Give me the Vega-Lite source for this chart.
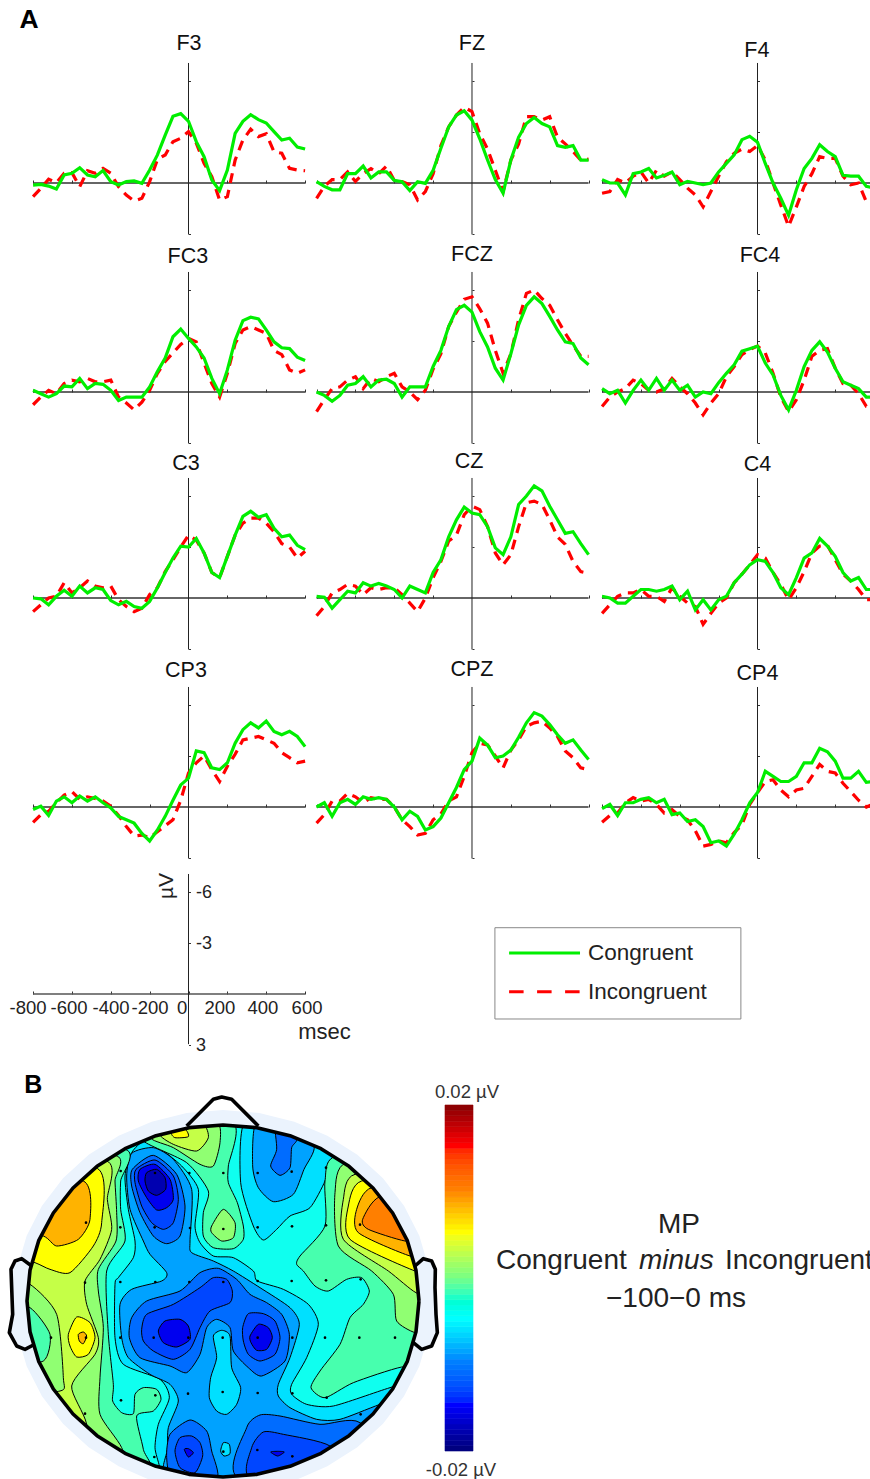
{"$schema":"https://vega.github.io/schema/vega-lite/v6.json","padding":0,"spacing":0,"config":{"font":"Liberation Sans","view":{"stroke":null},"concat":{"spacing":0}},
"datasets":{
"hax":[{"a":-800,"b":600,"z":0}],
"vax":[{"t":0,"a":-7.06,"b":3.03}],
"F3":[{"t":-800,"con":0.12,"inc":0.8},{"t":-760,"con":0.08,"inc":0.31},{"t":-720,"con":0.18,"inc":-0.22},{"t":-680,"con":0.35,"inc":-0.02},{"t":-640,"con":-0.47,"inc":-0.57},{"t":-600,"con":-0.57,"inc":-0.61},{"t":-560,"con":-0.9,"inc":0.22},{"t":-520,"con":-0.47,"inc":-0.72},{"t":-480,"con":-0.37,"inc":-0.57},{"t":-440,"con":-0.73,"inc":-0.86},{"t":-400,"con":-0.08,"inc":-0.57},{"t":-360,"con":0.12,"inc":0.22},{"t":-320,"con":-0.08,"inc":0.71},{"t":-280,"con":-0.12,"inc":1.06},{"t":-240,"con":0.02,"inc":0.9},{"t":-200,"con":-0.76,"inc":-0.08},{"t":-160,"con":-1.65,"inc":-1.39},{"t":-120,"con":-2.82,"inc":-1.65},{"t":-80,"con":-3.92,"inc":-2.43},{"t":-40,"con":-4.08,"inc":-2.63},{"t":0,"con":-3.63,"inc":-3.02},{"t":40,"con":-2.43,"inc":-2.35},{"t":80,"con":-1.55,"inc":-1.16},{"t":120,"con":-0.18,"inc":-0.37},{"t":160,"con":0.45,"inc":1},{"t":200,"con":-0.76,"inc":0.8},{"t":240,"con":-2.92,"inc":-1.35},{"t":280,"con":-3.63,"inc":-2.53},{"t":320,"con":-4.02,"inc":-3.16},{"t":360,"con":-3.73,"inc":-2.73},{"t":400,"con":-3.53,"inc":-2.9},{"t":440,"con":-3.02,"inc":-1.84},{"t":480,"con":-2.53,"inc":-1.75},{"t":520,"con":-2.63,"inc":-0.86},{"t":560,"con":-2.12,"inc":-0.76},{"t":600,"con":-2,"inc":-0.72}],
"FZ":[{"t":-800,"con":-0.08,"inc":0.9},{"t":-760,"con":0.2,"inc":0.2},{"t":-720,"con":0.4,"inc":-0.2},{"t":-680,"con":0.4,"inc":-0.2},{"t":-640,"con":-0.55,"inc":-0.65},{"t":-600,"con":-0.55,"inc":-0.1},{"t":-560,"con":-1,"inc":-0.55},{"t":-520,"con":-0.3,"inc":-0.85},{"t":-480,"con":-0.65,"inc":-0.55},{"t":-440,"con":-0.65,"inc":-1},{"t":-400,"con":-0.15,"inc":-0.15},{"t":-360,"con":-0.08,"inc":-0.08},{"t":-320,"con":0.45,"inc":0.1},{"t":-280,"con":-0.08,"inc":1},{"t":-240,"con":0.02,"inc":0.5},{"t":-200,"con":-0.75,"inc":-0.55},{"t":-160,"con":-2.04,"inc":-2.2},{"t":-120,"con":-3.3,"inc":-3.3},{"t":-80,"con":-4,"inc":-4},{"t":-40,"con":-4.25,"inc":-4.45},{"t":0,"con":-3.7,"inc":-4.2},{"t":40,"con":-2.6,"inc":-2.9},{"t":80,"con":-1.35,"inc":-2},{"t":120,"con":-0.2,"inc":-0.75},{"t":160,"con":0.6,"inc":0.5},{"t":200,"con":-1.35,"inc":-1.35},{"t":240,"con":-2.7,"inc":-2.3},{"t":280,"con":-3.5,"inc":-3.9},{"t":320,"con":-3.85,"inc":-3.9},{"t":360,"con":-3.5,"inc":-3.7},{"t":400,"con":-3.3,"inc":-3.9},{"t":440,"con":-2.2,"inc":-2.7},{"t":480,"con":-2.1,"inc":-2.3},{"t":520,"con":-2.2,"inc":-1.85},{"t":560,"con":-1.35,"inc":-1.35},{"t":600,"con":-1.35,"inc":-1.4}],
"F4":[{"t":-800,"con":-0.2,"inc":0.6},{"t":-760,"con":0,"inc":0.5},{"t":-720,"con":0,"inc":-0.2},{"t":-680,"con":0.7,"inc":0},{"t":-640,"con":-0.55,"inc":-0.4},{"t":-600,"con":-0.65,"inc":-0.65},{"t":-560,"con":-0.85,"inc":0},{"t":-520,"con":-0.3,"inc":-0.75},{"t":-480,"con":-0.45,"inc":-0.4},{"t":-440,"con":-0.65,"inc":-0.65},{"t":-400,"con":0.1,"inc":-0.2},{"t":-360,"con":-0.1,"inc":0.3},{"t":-320,"con":0,"inc":0.7},{"t":-280,"con":0.1,"inc":1.4},{"t":-240,"con":0,"inc":0.5},{"t":-200,"con":-0.65,"inc":-0.4},{"t":-160,"con":-1.15,"inc":-1.25},{"t":-120,"con":-1.65,"inc":-1.75},{"t":-80,"con":-2.55,"inc":-2},{"t":-40,"con":-2.75,"inc":-1.85},{"t":0,"con":-2.4,"inc":-2.2},{"t":40,"con":-1.15,"inc":-1.35},{"t":80,"con":0,"inc":0},{"t":120,"con":0.9,"inc":1.3},{"t":160,"con":1.9,"inc":2.55},{"t":200,"con":0.4,"inc":1.4},{"t":240,"con":-0.85,"inc":0.2},{"t":280,"con":-1.45,"inc":-0.55},{"t":320,"con":-2.25,"inc":-1.55},{"t":360,"con":-1.85,"inc":-1.45},{"t":400,"con":-1.55,"inc":-1.45},{"t":440,"con":-0.45,"inc":-0.4},{"t":480,"con":-0.4,"inc":0.1},{"t":520,"con":-0.4,"inc":0},{"t":560,"con":0.2,"inc":1.1},{"t":600,"con":0.3,"inc":1.2}],
"FC3":[{"t":-800,"con":-0.1,"inc":0.75},{"t":-760,"con":0.1,"inc":0.3},{"t":-720,"con":0.3,"inc":-0.1},{"t":-680,"con":0.1,"inc":0.1},{"t":-640,"con":-0.35,"inc":-0.5},{"t":-600,"con":-0.3,"inc":-0.7},{"t":-560,"con":-0.8,"inc":-0.6},{"t":-520,"con":-0.2,"inc":-0.8},{"t":-480,"con":-0.5,"inc":-0.6},{"t":-440,"con":-0.45,"inc":-0.6},{"t":-400,"con":-0.1,"inc":-0.7},{"t":-360,"con":0.5,"inc":0.3},{"t":-320,"con":0.3,"inc":0.65},{"t":-280,"con":0.3,"inc":1.05},{"t":-240,"con":0.3,"inc":0.6},{"t":-200,"con":-0.3,"inc":-0.1},{"t":-160,"con":-1.2,"inc":-1.1},{"t":-120,"con":-2,"inc":-1.8},{"t":-80,"con":-3.25,"inc":-2.3},{"t":-40,"con":-3.7,"inc":-2.8},{"t":0,"con":-3.15,"inc":-3.15},{"t":40,"con":-2.65,"inc":-2.95},{"t":80,"con":-2,"inc":-1.7},{"t":120,"con":-0.8,"inc":-0.5},{"t":160,"con":0.1,"inc":0.3},{"t":200,"con":-1.3,"inc":-1.1},{"t":240,"con":-3.05,"inc":-2.85},{"t":280,"con":-4.2,"inc":-3.65},{"t":320,"con":-4.4,"inc":-3.85},{"t":360,"con":-4.3,"inc":-3.65},{"t":400,"con":-3.65,"inc":-3.45},{"t":440,"con":-2.95,"inc":-2.45},{"t":480,"con":-2.6,"inc":-2.2},{"t":520,"con":-2.55,"inc":-1.3},{"t":560,"con":-2.05,"inc":-1.1},{"t":600,"con":-1.85,"inc":-1.3}],
"FCZ":[{"t":-800,"con":0,"inc":1.15},{"t":-760,"con":0.2,"inc":0.45},{"t":-720,"con":0.55,"inc":-0.2},{"t":-680,"con":0.2,"inc":-0.3},{"t":-640,"con":-0.4,"inc":-0.7},{"t":-600,"con":-0.5,"inc":-0.9},{"t":-560,"con":-0.9,"inc":-0.2},{"t":-520,"con":-0.3,"inc":-0.8},{"t":-480,"con":-0.7,"inc":-0.6},{"t":-440,"con":-0.75,"inc":-0.9},{"t":-400,"con":-0.5,"inc":-1.1},{"t":-360,"con":0.3,"inc":-0.3},{"t":-320,"con":-0.3,"inc":0},{"t":-280,"con":-0.3,"inc":0.45},{"t":-240,"con":-0.3,"inc":-0.1},{"t":-200,"con":-1.5,"inc":-1.35},{"t":-160,"con":-2.45,"inc":-2.25},{"t":-120,"con":-3.85,"inc":-3.85},{"t":-80,"con":-4.85,"inc":-4.7},{"t":-40,"con":-5.1,"inc":-5.45},{"t":0,"con":-4.7,"inc":-5.6},{"t":40,"con":-3.55,"inc":-4.9},{"t":80,"con":-2.65,"inc":-4.05},{"t":120,"con":-1.4,"inc":-2.45},{"t":160,"con":-0.7,"inc":-1.1},{"t":200,"con":-2.25,"inc":-2.25},{"t":240,"con":-3.95,"inc":-4.25},{"t":280,"con":-5.1,"inc":-5.8},{"t":320,"con":-5.6,"inc":-6},{"t":360,"con":-5.2,"inc":-5.5},{"t":400,"con":-4.45,"inc":-5.1},{"t":440,"con":-3.65,"inc":-4.25},{"t":480,"con":-2.95,"inc":-3.45},{"t":520,"con":-2.85,"inc":-2.75},{"t":560,"con":-2,"inc":-2.1},{"t":600,"con":-1.6,"inc":-2.1}],
"FC4":[{"t":-800,"con":-0.2,"inc":0.85},{"t":-760,"con":0.1,"inc":0.3},{"t":-720,"con":-0.1,"inc":0},{"t":-680,"con":0.65,"inc":-0.2},{"t":-640,"con":-0.1,"inc":-0.7},{"t":-600,"con":-0.7,"inc":-0.5},{"t":-560,"con":-0.1,"inc":-0.1},{"t":-520,"con":-0.8,"inc":0},{"t":-480,"con":-0.1,"inc":-0.2},{"t":-440,"con":-0.7,"inc":-0.8},{"t":-400,"con":-0.1,"inc":-0.3},{"t":-360,"con":-0.4,"inc":0.1},{"t":-320,"con":0.3,"inc":0.65},{"t":-280,"con":0,"inc":1.35},{"t":-240,"con":0.1,"inc":0.65},{"t":-200,"con":-0.55,"inc":0.1},{"t":-160,"con":-1.1,"inc":-0.9},{"t":-120,"con":-1.6,"inc":-1.5},{"t":-80,"con":-2.4,"inc":-2.2},{"t":-40,"con":-2.55,"inc":-2.5},{"t":0,"con":-2.7,"inc":-2.7},{"t":40,"con":-1.7,"inc":-2.3},{"t":80,"con":-1,"inc":-1.1},{"t":120,"con":0.2,"inc":0.3},{"t":160,"con":1.05,"inc":1.15},{"t":200,"con":-0.1,"inc":0.45},{"t":240,"con":-1.5,"inc":-0.7},{"t":280,"con":-2.45,"inc":-2.1},{"t":320,"con":-2.95,"inc":-2.45},{"t":360,"con":-2.35,"inc":-2.55},{"t":400,"con":-1.4,"inc":-1.4},{"t":440,"con":-0.6,"inc":-0.5},{"t":480,"con":-0.4,"inc":-0.4},{"t":520,"con":-0.2,"inc":0.1},{"t":560,"con":0.3,"inc":0.85},{"t":600,"con":0.3,"inc":0.95}],
"C3":[{"t":-800,"con":0,"inc":0.8},{"t":-760,"con":0.05,"inc":0.4},{"t":-720,"con":0.4,"inc":0},{"t":-680,"con":-0.1,"inc":-0.1},{"t":-640,"con":-0.45,"inc":-0.9},{"t":-600,"con":-0.1,"inc":-0.3},{"t":-560,"con":-0.7,"inc":-0.6},{"t":-520,"con":-0.3,"inc":-1},{"t":-480,"con":-0.6,"inc":-0.7},{"t":-440,"con":-0.5,"inc":-0.6},{"t":-400,"con":0.15,"inc":-0.7},{"t":-360,"con":0.4,"inc":0.1},{"t":-320,"con":0.2,"inc":0.5},{"t":-280,"con":0.5,"inc":0.8},{"t":-240,"con":0.6,"inc":0.6},{"t":-200,"con":0.2,"inc":-0.2},{"t":-160,"con":-0.6,"inc":-0.6},{"t":-120,"con":-1.5,"inc":-1.55},{"t":-80,"con":-2.35,"inc":-2.25},{"t":-40,"con":-3.05,"inc":-3},{"t":0,"con":-3,"inc":-3.7},{"t":40,"con":-3.5,"inc":-3.4},{"t":80,"con":-2.65,"inc":-2.65},{"t":120,"con":-1.5,"inc":-1.5},{"t":160,"con":-1.2,"inc":-1.2},{"t":200,"con":-2.45,"inc":-2.45},{"t":240,"con":-3.7,"inc":-3.7},{"t":280,"con":-4.8,"inc":-4.4},{"t":320,"con":-5.1,"inc":-4.7},{"t":360,"con":-4.75,"inc":-4.7},{"t":400,"con":-4.9,"inc":-4.4},{"t":440,"con":-4.1,"inc":-3.9},{"t":480,"con":-3.6,"inc":-3.2},{"t":520,"con":-3.7,"inc":-3},{"t":560,"con":-3.1,"inc":-2.35},{"t":600,"con":-2.85,"inc":-2.75}],
"CZ":[{"t":-800,"con":-0.1,"inc":1.05},{"t":-760,"con":-0.05,"inc":0.5},{"t":-720,"con":0.6,"inc":-0.3},{"t":-680,"con":0.1,"inc":-0.5},{"t":-640,"con":-0.4,"inc":-0.8},{"t":-600,"con":-0.3,"inc":-0.7},{"t":-560,"con":-0.9,"inc":-0.2},{"t":-520,"con":-0.7,"inc":-0.6},{"t":-480,"con":-0.85,"inc":-0.5},{"t":-440,"con":-0.7,"inc":-0.6},{"t":-400,"con":-0.5,"inc":-0.6},{"t":-360,"con":0,"inc":-0.2},{"t":-320,"con":-0.7,"inc":0.3},{"t":-280,"con":-0.5,"inc":0.8},{"t":-240,"con":-0.3,"inc":0},{"t":-200,"con":-1.5,"inc":-1.2},{"t":-160,"con":-2.25,"inc":-2.15},{"t":-120,"con":-3.6,"inc":-3.35},{"t":-80,"con":-4.6,"inc":-3.7},{"t":-40,"con":-5.35,"inc":-4.9},{"t":0,"con":-5,"inc":-5.4},{"t":40,"con":-4.9,"inc":-5.2},{"t":80,"con":-4.2,"inc":-4.2},{"t":120,"con":-2.95,"inc":-2.65},{"t":160,"con":-2.55,"inc":-1.95},{"t":200,"con":-3.6,"inc":-2.55},{"t":240,"con":-5.5,"inc":-4.2},{"t":280,"con":-6,"inc":-5.6},{"t":320,"con":-6.6,"inc":-5.7},{"t":360,"con":-6.3,"inc":-5.5},{"t":400,"con":-5.4,"inc":-4.6},{"t":440,"con":-4.6,"inc":-3.6},{"t":480,"con":-3.8,"inc":-3.15},{"t":520,"con":-3.9,"inc":-2.15},{"t":560,"con":-3.2,"inc":-1.55},{"t":600,"con":-2.55,"inc":-1.45}],
"C4":[{"t":-800,"con":-0.1,"inc":0.9},{"t":-760,"con":0,"inc":0.4},{"t":-720,"con":0.3,"inc":-0.1},{"t":-680,"con":0.3,"inc":-0.3},{"t":-640,"con":-0.1,"inc":-0.3},{"t":-600,"con":-0.5,"inc":-0.5},{"t":-560,"con":-0.5,"inc":-0.1},{"t":-520,"con":-0.4,"inc":-0.1},{"t":-480,"con":-0.5,"inc":0.2},{"t":-440,"con":-0.7,"inc":-0.6},{"t":-400,"con":0.1,"inc":-0.1},{"t":-360,"con":-0.4,"inc":0.3},{"t":-320,"con":0.7,"inc":0.5},{"t":-280,"con":0.1,"inc":1.55},{"t":-240,"con":0.7,"inc":0.9},{"t":-200,"con":0.1,"inc":0.3},{"t":-160,"con":-0.1,"inc":0},{"t":-120,"con":-0.9,"inc":-0.9},{"t":-80,"con":-1.4,"inc":-1.4},{"t":-40,"con":-1.95,"inc":-1.95},{"t":0,"con":-2.25,"inc":-2.55},{"t":40,"con":-2.15,"inc":-2.35},{"t":80,"con":-1.5,"inc":-1.5},{"t":120,"con":-0.6,"inc":-0.8},{"t":160,"con":-0.2,"inc":0.1},{"t":200,"con":-1.2,"inc":-0.6},{"t":240,"con":-2.35,"inc":-1.55},{"t":280,"con":-2.65,"inc":-2.65},{"t":320,"con":-3.5,"inc":-3.05},{"t":360,"con":-3.05,"inc":-3.1},{"t":400,"con":-2.45,"inc":-2.25},{"t":440,"con":-1.5,"inc":-1.4},{"t":480,"con":-1,"inc":-1},{"t":520,"con":-1.2,"inc":-0.5},{"t":560,"con":-0.5,"inc":0.1},{"t":600,"con":-0.5,"inc":0.1}],
"CP3":[{"t":-800,"con":0.15,"inc":0.9},{"t":-760,"con":-0.05,"inc":0.45},{"t":-720,"con":0.5,"inc":0.25},{"t":-680,"con":-0.35,"inc":-0.25},{"t":-640,"con":-0.6,"inc":-0.7},{"t":-600,"con":-0.25,"inc":-0.9},{"t":-560,"con":-0.65,"inc":-0.45},{"t":-520,"con":-0.35,"inc":-0.6},{"t":-480,"con":-0.6,"inc":-0.5},{"t":-440,"con":-0.25,"inc":-0.35},{"t":-400,"con":0.05,"inc":-0.05},{"t":-360,"con":0.55,"inc":0.5},{"t":-320,"con":0.75,"inc":1.15},{"t":-280,"con":0.95,"inc":1.7},{"t":-240,"con":1.55,"inc":1.65},{"t":-200,"con":2,"inc":1.8},{"t":-160,"con":1.35,"inc":1.45},{"t":-120,"con":0.55,"inc":1.1},{"t":-80,"con":-0.4,"inc":0.75},{"t":-40,"con":-1.3,"inc":-0.4},{"t":0,"con":-1.7,"inc":-2},{"t":40,"con":-3.3,"inc":-2.6},{"t":80,"con":-3.2,"inc":-3},{"t":120,"con":-2.3,"inc":-2.2},{"t":160,"con":-2.2,"inc":-1.5},{"t":200,"con":-2.6,"inc":-2.4},{"t":240,"con":-3.75,"inc":-3.1},{"t":280,"con":-4.55,"inc":-3.95},{"t":320,"con":-4.95,"inc":-4.05},{"t":360,"con":-4.65,"inc":-4.15},{"t":400,"con":-5.05,"inc":-3.95},{"t":440,"con":-4.45,"inc":-3.75},{"t":480,"con":-4.25,"inc":-3.2},{"t":520,"con":-4.45,"inc":-2.9},{"t":560,"con":-4.15,"inc":-2.6},{"t":600,"con":-3.55,"inc":-2.7}],
"CPZ":[{"t":-800,"con":0,"inc":0.95},{"t":-760,"con":-0.25,"inc":0.45},{"t":-720,"con":0.55,"inc":-0.35},{"t":-680,"con":-0.25,"inc":-0.35},{"t":-640,"con":-0.45,"inc":-0.8},{"t":-600,"con":-0.15,"inc":-0.6},{"t":-560,"con":-0.6,"inc":-0.25},{"t":-520,"con":-0.45,"inc":-0.55},{"t":-480,"con":-0.55,"inc":-0.45},{"t":-440,"con":-0.45,"inc":-0.45},{"t":-400,"con":0,"inc":0},{"t":-360,"con":0.75,"inc":0.75},{"t":-320,"con":0.25,"inc":1.15},{"t":-280,"con":0.55,"inc":1.65},{"t":-240,"con":1.35,"inc":1.55},{"t":-200,"con":1.15,"inc":0.75},{"t":-160,"con":0.65,"inc":0.4},{"t":-120,"con":-0.25,"inc":-0.35},{"t":-80,"con":-1.15,"inc":-0.6},{"t":-40,"con":-2.2,"inc":-1.8},{"t":0,"con":-2.7,"inc":-3.2},{"t":40,"con":-4.05,"inc":-3.75},{"t":80,"con":-3.65,"inc":-3.65},{"t":120,"con":-2.9,"inc":-3},{"t":160,"con":-3,"inc":-2.3},{"t":200,"con":-3.35,"inc":-3.35},{"t":240,"con":-4.1,"inc":-3.95},{"t":280,"con":-4.95,"inc":-4.75},{"t":320,"con":-5.55,"inc":-4.95},{"t":360,"con":-5.35,"inc":-5.05},{"t":400,"con":-4.85,"inc":-4.65},{"t":440,"con":-4.25,"inc":-4.15},{"t":480,"con":-3.75,"inc":-3.3},{"t":520,"con":-3.95,"inc":-2.9},{"t":560,"con":-3.35,"inc":-2.3},{"t":600,"con":-2.8,"inc":-2.2}],
"CP4":[{"t":-800,"con":0.1,"inc":0.9},{"t":-760,"con":-0.15,"inc":0.5},{"t":-720,"con":0.5,"inc":0.35},{"t":-680,"con":-0.25,"inc":-0.25},{"t":-640,"con":-0.25,"inc":-0.55},{"t":-600,"con":-0.45,"inc":-0.35},{"t":-560,"con":-0.55,"inc":-0.45},{"t":-520,"con":-0.25,"inc":-0.15},{"t":-480,"con":-0.45,"inc":0.35},{"t":-440,"con":0.45,"inc":0.15},{"t":-400,"con":0.35,"inc":0.55},{"t":-360,"con":0.85,"inc":0.75},{"t":-320,"con":0.75,"inc":1.4},{"t":-280,"con":1.15,"inc":2.3},{"t":-240,"con":2.1,"inc":2.2},{"t":-200,"con":2,"inc":2},{"t":-160,"con":2.3,"inc":2.1},{"t":-120,"con":1.6,"inc":1.5},{"t":-80,"con":0.75,"inc":1.05},{"t":-40,"con":-0.25,"inc":-0.15},{"t":0,"con":-0.85,"inc":-0.85},{"t":40,"con":-2.1,"inc":-1.5},{"t":80,"con":-1.8,"inc":-1.6},{"t":120,"con":-1.5,"inc":-1},{"t":160,"con":-1.5,"inc":-0.6},{"t":200,"con":-1.8,"inc":-1},{"t":240,"con":-2.6,"inc":-1.1},{"t":280,"con":-2.6,"inc":-1.8},{"t":320,"con":-3.45,"inc":-2.5},{"t":360,"con":-3.25,"inc":-2.1},{"t":400,"con":-2.7,"inc":-2},{"t":440,"con":-1.7,"inc":-1.4},{"t":480,"con":-1.7,"inc":-0.9},{"t":520,"con":-2.1,"inc":-0.4},{"t":560,"con":-1.45,"inc":0},{"t":600,"con":-1.5,"inc":-0.2}],
"bar":[{"lo":-0.02,"hi":-0.019375},{"lo":-0.019375,"hi":-0.01875},{"lo":-0.01875,"hi":-0.018125},{"lo":-0.018125,"hi":-0.0175},{"lo":-0.0175,"hi":-0.016875},{"lo":-0.016875,"hi":-0.01625},{"lo":-0.01625,"hi":-0.015625},{"lo":-0.015625,"hi":-0.015},{"lo":-0.015,"hi":-0.014375},{"lo":-0.014375,"hi":-0.01375},{"lo":-0.01375,"hi":-0.013125},{"lo":-0.013125,"hi":-0.0125},{"lo":-0.0125,"hi":-0.011875},{"lo":-0.011875,"hi":-0.01125},{"lo":-0.01125,"hi":-0.010625},{"lo":-0.010625,"hi":-0.01},{"lo":-0.01,"hi":-0.009375},{"lo":-0.009375,"hi":-0.00875},{"lo":-0.00875,"hi":-0.008125},{"lo":-0.008125,"hi":-0.0075},{"lo":-0.0075,"hi":-0.006875},{"lo":-0.006875,"hi":-0.00625},{"lo":-0.00625,"hi":-0.005625},{"lo":-0.005625,"hi":-0.005},{"lo":-0.005,"hi":-0.004375},{"lo":-0.004375,"hi":-0.00375},{"lo":-0.00375,"hi":-0.003125},{"lo":-0.003125,"hi":-0.0025},{"lo":-0.0025,"hi":-0.001875},{"lo":-0.001875,"hi":-0.00125},{"lo":-0.00125,"hi":-0.000625},{"lo":-0.000625,"hi":0},{"lo":0,"hi":0.000625},{"lo":0.000625,"hi":0.00125},{"lo":0.00125,"hi":0.001875},{"lo":0.001875,"hi":0.0025},{"lo":0.0025,"hi":0.003125},{"lo":0.003125,"hi":0.00375},{"lo":0.00375,"hi":0.004375},{"lo":0.004375,"hi":0.005},{"lo":0.005,"hi":0.005625},{"lo":0.005625,"hi":0.00625},{"lo":0.00625,"hi":0.006875},{"lo":0.006875,"hi":0.0075},{"lo":0.0075,"hi":0.008125},{"lo":0.008125,"hi":0.00875},{"lo":0.00875,"hi":0.009375},{"lo":0.009375,"hi":0.01},{"lo":0.01,"hi":0.010625},{"lo":0.010625,"hi":0.01125},{"lo":0.01125,"hi":0.011875},{"lo":0.011875,"hi":0.0125},{"lo":0.0125,"hi":0.013125},{"lo":0.013125,"hi":0.01375},{"lo":0.01375,"hi":0.014375},{"lo":0.014375,"hi":0.015},{"lo":0.015,"hi":0.015625},{"lo":0.015625,"hi":0.01625},{"lo":0.01625,"hi":0.016875},{"lo":0.016875,"hi":0.0175},{"lo":0.0175,"hi":0.018125},{"lo":0.018125,"hi":0.01875},{"lo":0.01875,"hi":0.019375},{"lo":0.019375,"hi":0.02}],
"base":[{"type":"Feature","properties":{},"geometry":{"type":"Polygon","coordinates":[[[10,130],[1310,130],[1310,1238],[10,1238],[10,130]]]}}],
"contours":[
{"p":1,"v":-0.0064,"x":432,"y":225},{"p":1,"v":-0.0064,"x":470,"y":240},{"p":1,"v":-0.0064,"x":545,"y":300},{"p":1,"v":-0.0064,"x":595,"y":370},{"p":1,"v":-0.0064,"x":585,"y":480},{"p":1,"v":-0.0064,"x":600,"y":530},{"p":1,"v":-0.0064,"x":640,"y":570},{"p":1,"v":-0.0064,"x":700,"y":575},{"p":1,"v":-0.0064,"x":760,"y":615},{"p":1,"v":-0.0064,"x":772,"y":645},{"p":1,"v":-0.0064,"x":850,"y":670},{"p":1,"v":-0.0064,"x":925,"y":715},{"p":1,"v":-0.0064,"x":955,"y":775},{"p":1,"v":-0.0064,"x":920,"y":875},{"p":1,"v":-0.0064,"x":875,"y":955},{"p":1,"v":-0.0064,"x":875,"y":985},{"p":1,"v":-0.0064,"x":920,"y":1015},{"p":1,"v":-0.0064,"x":1000,"y":1020},{"p":1,"v":-0.0064,"x":1170,"y":965},{"p":1,"v":-0.0064,"x":1300,"y":930},{"p":1,"v":-0.0064,"x":1300,"y":1238},{"p":1,"v":-0.0064,"x":480,"y":1238},{"p":1,"v":-0.0064,"x":478,"y":1200},{"p":1,"v":-0.0064,"x":465,"y":1145},{"p":1,"v":-0.0064,"x":475,"y":1075},{"p":1,"v":-0.0064,"x":508,"y":995},{"p":1,"v":-0.0064,"x":480,"y":940},{"p":1,"v":-0.0064,"x":370,"y":895},{"p":1,"v":-0.0064,"x":345,"y":815},{"p":1,"v":-0.0064,"x":345,"y":655},{"p":1,"v":-0.0064,"x":355,"y":635},{"p":1,"v":-0.0064,"x":400,"y":575},{"p":1,"v":-0.0064,"x":405,"y":525},{"p":1,"v":-0.0064,"x":385,"y":430},{"p":1,"v":-0.0064,"x":375,"y":330},{"p":1,"v":-0.0064,"x":395,"y":260},
{"p":2,"v":-0.0064,"x":733,"y":170},{"p":2,"v":-0.0064,"x":722,"y":350},{"p":2,"v":-0.0064,"x":760,"y":480},{"p":2,"v":-0.0064,"x":790,"y":522},{"p":2,"v":-0.0064,"x":830,"y":490},{"p":2,"v":-0.0064,"x":870,"y":450},{"p":2,"v":-0.0064,"x":930,"y":425},{"p":2,"v":-0.0064,"x":975,"y":345},{"p":2,"v":-0.0064,"x":985,"y":290},{"p":2,"v":-0.0064,"x":1005,"y":260},{"p":2,"v":-0.0064,"x":860,"y":170},
{"p":3,"v":-0.0088,"x":395,"y":262},{"p":3,"v":-0.0088,"x":460,"y":245},{"p":3,"v":-0.0088,"x":520,"y":280},{"p":3,"v":-0.0088,"x":575,"y":370},{"p":3,"v":-0.0088,"x":570,"y":525},{"p":3,"v":-0.0088,"x":575,"y":560},{"p":3,"v":-0.0088,"x":640,"y":585},{"p":3,"v":-0.0088,"x":700,"y":615},{"p":3,"v":-0.0088,"x":780,"y":665},{"p":3,"v":-0.0088,"x":870,"y":725},{"p":3,"v":-0.0088,"x":898,"y":775},{"p":3,"v":-0.0088,"x":870,"y":875},{"p":3,"v":-0.0088,"x":835,"y":955},{"p":3,"v":-0.0088,"x":835,"y":990},{"p":3,"v":-0.0088,"x":870,"y":1025},{"p":3,"v":-0.0088,"x":950,"y":1060},{"p":3,"v":-0.0088,"x":1020,"y":1060},{"p":3,"v":-0.0088,"x":1140,"y":1015},{"p":3,"v":-0.0088,"x":1300,"y":960},{"p":3,"v":-0.0088,"x":1300,"y":1238},{"p":3,"v":-0.0088,"x":495,"y":1238},{"p":3,"v":-0.0088,"x":490,"y":1200},{"p":3,"v":-0.0088,"x":502,"y":1150},{"p":3,"v":-0.0088,"x":505,"y":1085},{"p":3,"v":-0.0088,"x":535,"y":1005},{"p":3,"v":-0.0088,"x":510,"y":955},{"p":3,"v":-0.0088,"x":450,"y":925},{"p":3,"v":-0.0088,"x":385,"y":875},{"p":3,"v":-0.0088,"x":365,"y":815},{"p":3,"v":-0.0088,"x":360,"y":715},{"p":3,"v":-0.0088,"x":395,"y":670},{"p":3,"v":-0.0088,"x":485,"y":645},{"p":3,"v":-0.0088,"x":500,"y":620},{"p":3,"v":-0.0088,"x":450,"y":565},{"p":3,"v":-0.0088,"x":430,"y":525},{"p":3,"v":-0.0088,"x":390,"y":430},{"p":3,"v":-0.0088,"x":380,"y":330},
{"p":4,"v":-0.0088,"x":768,"y":170},{"p":4,"v":-0.0088,"x":758,"y":300},{"p":4,"v":-0.0088,"x":775,"y":365},{"p":4,"v":-0.0088,"x":820,"y":407},{"p":4,"v":-0.0088,"x":880,"y":385},{"p":4,"v":-0.0088,"x":912,"y":310},{"p":4,"v":-0.0088,"x":942,"y":240},{"p":4,"v":-0.0088,"x":860,"y":170},
{"p":5,"v":-0.0112,"x":825,"y":170},{"p":5,"v":-0.0112,"x":830,"y":250},{"p":5,"v":-0.0112,"x":812,"y":300},{"p":5,"v":-0.0112,"x":840,"y":328},{"p":5,"v":-0.0112,"x":870,"y":305},{"p":5,"v":-0.0112,"x":875,"y":245},{"p":5,"v":-0.0112,"x":890,"y":220},{"p":5,"v":-0.0112,"x":860,"y":170},
{"p":6,"v":-0.0112,"x":397,"y":310},{"p":6,"v":-0.0112,"x":460,"y":268},{"p":6,"v":-0.0112,"x":530,"y":325},{"p":6,"v":-0.0112,"x":555,"y":420},{"p":6,"v":-0.0112,"x":540,"y":510},{"p":6,"v":-0.0112,"x":500,"y":533},{"p":6,"v":-0.0112,"x":460,"y":510},{"p":6,"v":-0.0112,"x":420,"y":440},{"p":6,"v":-0.0112,"x":395,"y":360},
{"p":7,"v":-0.0132,"x":408,"y":310},{"p":7,"v":-0.0132,"x":465,"y":282},{"p":7,"v":-0.0132,"x":520,"y":330},{"p":7,"v":-0.0132,"x":535,"y":400},{"p":7,"v":-0.0132,"x":520,"y":470},{"p":7,"v":-0.0132,"x":490,"y":490},{"p":7,"v":-0.0132,"x":455,"y":470},{"p":7,"v":-0.0132,"x":425,"y":420},{"p":7,"v":-0.0132,"x":405,"y":350},
{"p":8,"v":-0.0156,"x":420,"y":310},{"p":8,"v":-0.0156,"x":465,"y":295},{"p":8,"v":-0.0156,"x":510,"y":340},{"p":8,"v":-0.0156,"x":520,"y":400},{"p":8,"v":-0.0156,"x":500,"y":425},{"p":8,"v":-0.0156,"x":470,"y":432},{"p":8,"v":-0.0156,"x":440,"y":395},{"p":8,"v":-0.0156,"x":415,"y":345},
{"p":9,"v":-0.018,"x":440,"y":320},{"p":9,"v":-0.018,"x":470,"y":310},{"p":9,"v":-0.018,"x":495,"y":335},{"p":9,"v":-0.018,"x":497,"y":370},{"p":9,"v":-0.018,"x":470,"y":388},{"p":9,"v":-0.018,"x":445,"y":375},{"p":9,"v":-0.018,"x":435,"y":345},
{"p":10,"v":-0.0112,"x":388,"y":815},{"p":10,"v":-0.0112,"x":395,"y":755},{"p":10,"v":-0.0112,"x":440,"y":705},{"p":10,"v":-0.0112,"x":540,"y":675},{"p":10,"v":-0.0112,"x":600,"y":620},{"p":10,"v":-0.0112,"x":655,"y":607},{"p":10,"v":-0.0112,"x":710,"y":640},{"p":10,"v":-0.0112,"x":750,"y":685},{"p":10,"v":-0.0112,"x":800,"y":710},{"p":10,"v":-0.0112,"x":845,"y":745},{"p":10,"v":-0.0112,"x":868,"y":805},{"p":10,"v":-0.0112,"x":855,"y":885},{"p":10,"v":-0.0112,"x":785,"y":930},{"p":10,"v":-0.0112,"x":745,"y":905},{"p":10,"v":-0.0112,"x":700,"y":855},{"p":10,"v":-0.0112,"x":690,"y":785},{"p":10,"v":-0.0112,"x":650,"y":760},{"p":10,"v":-0.0112,"x":620,"y":785},{"p":10,"v":-0.0112,"x":600,"y":865},{"p":10,"v":-0.0112,"x":560,"y":920},{"p":10,"v":-0.0112,"x":510,"y":900},{"p":10,"v":-0.0112,"x":420,"y":875},
{"p":11,"v":-0.0132,"x":425,"y":790},{"p":11,"v":-0.0132,"x":440,"y":745},{"p":11,"v":-0.0132,"x":520,"y":715},{"p":11,"v":-0.0132,"x":600,"y":665},{"p":11,"v":-0.0132,"x":640,"y":635},{"p":11,"v":-0.0132,"x":680,"y":640},{"p":11,"v":-0.0132,"x":697,"y":675},{"p":11,"v":-0.0132,"x":690,"y":710},{"p":11,"v":-0.0132,"x":630,"y":735},{"p":11,"v":-0.0132,"x":600,"y":785},{"p":11,"v":-0.0132,"x":570,"y":850},{"p":11,"v":-0.0132,"x":520,"y":880},{"p":11,"v":-0.0132,"x":460,"y":855},{"p":11,"v":-0.0132,"x":430,"y":825},
{"p":12,"v":-0.0156,"x":475,"y":795},{"p":12,"v":-0.0156,"x":495,"y":765},{"p":12,"v":-0.0156,"x":540,"y":760},{"p":12,"v":-0.0156,"x":565,"y":780},{"p":12,"v":-0.0156,"x":570,"y":820},{"p":12,"v":-0.0156,"x":530,"y":843},{"p":12,"v":-0.0156,"x":490,"y":830},
{"p":13,"v":-0.0132,"x":728,"y":785},{"p":13,"v":-0.0132,"x":745,"y":743},{"p":13,"v":-0.0132,"x":790,"y":743},{"p":13,"v":-0.0132,"x":825,"y":765},{"p":13,"v":-0.0132,"x":840,"y":815},{"p":13,"v":-0.0132,"x":825,"y":865},{"p":13,"v":-0.0132,"x":780,"y":885},{"p":13,"v":-0.0132,"x":745,"y":865},{"p":13,"v":-0.0132,"x":730,"y":825},
{"p":14,"v":-0.0156,"x":750,"y":810},{"p":14,"v":-0.0156,"x":775,"y":775},{"p":14,"v":-0.0156,"x":805,"y":785},{"p":14,"v":-0.0156,"x":817,"y":815},{"p":14,"v":-0.0156,"x":800,"y":850},{"p":14,"v":-0.0156,"x":770,"y":853},{"p":14,"v":-0.0156,"x":753,"y":830},
{"p":15,"v":-0.0064,"x":640,"y":810},{"p":15,"v":-0.0064,"x":665,"y":793},{"p":15,"v":-0.0064,"x":690,"y":810},{"p":15,"v":-0.0064,"x":695,"y":905},{"p":15,"v":-0.0064,"x":722,"y":965},{"p":15,"v":-0.0064,"x":710,"y":1015},{"p":15,"v":-0.0064,"x":680,"y":1045},{"p":15,"v":-0.0064,"x":650,"y":1035},{"p":15,"v":-0.0064,"x":628,"y":995},{"p":15,"v":-0.0064,"x":632,"y":935},{"p":15,"v":-0.0064,"x":650,"y":875},
{"p":16,"v":-0.0112,"x":500,"y":1175},{"p":16,"v":-0.0112,"x":510,"y":1105},{"p":16,"v":-0.0112,"x":570,"y":1062},{"p":16,"v":-0.0112,"x":620,"y":1095},{"p":16,"v":-0.0112,"x":635,"y":1155},{"p":16,"v":-0.0112,"x":650,"y":1238},{"p":16,"v":-0.0112,"x":520,"y":1238},
{"p":17,"v":-0.0132,"x":525,"y":1155},{"p":17,"v":-0.0132,"x":540,"y":1115},{"p":17,"v":-0.0132,"x":575,"y":1110},{"p":17,"v":-0.0132,"x":600,"y":1130},{"p":17,"v":-0.0132,"x":608,"y":1170},{"p":17,"v":-0.0132,"x":585,"y":1220},{"p":17,"v":-0.0132,"x":540,"y":1205},
{"p":18,"v":-0.0156,"x":553,"y":1150},{"p":18,"v":-0.0156,"x":565,"y":1148},{"p":18,"v":-0.0156,"x":580,"y":1160},{"p":18,"v":-0.0156,"x":565,"y":1173},
{"p":19,"v":-0.0112,"x":720,"y":1238},{"p":19,"v":-0.0112,"x":740,"y":1085},{"p":19,"v":-0.0112,"x":780,"y":1047},{"p":19,"v":-0.0112,"x":840,"y":1050},{"p":19,"v":-0.0112,"x":960,"y":1075},{"p":19,"v":-0.0112,"x":1080,"y":1070},{"p":19,"v":-0.0112,"x":1200,"y":1238},
{"p":20,"v":-0.0132,"x":755,"y":1145},{"p":20,"v":-0.0132,"x":790,"y":1098},{"p":20,"v":-0.0132,"x":850,"y":1105},{"p":20,"v":-0.0132,"x":990,"y":1140},{"p":20,"v":-0.0132,"x":1050,"y":1238},{"p":20,"v":-0.0132,"x":755,"y":1238},
{"p":21,"v":-0.0156,"x":812,"y":1158},{"p":21,"v":-0.0156,"x":833,"y":1156},{"p":21,"v":-0.0156,"x":853,"y":1158},{"p":21,"v":-0.0156,"x":833,"y":1170},
{"p":22,"v":-0.0064,"x":662,"y":1155},{"p":22,"v":-0.0064,"x":670,"y":1130},{"p":22,"v":-0.0064,"x":688,"y":1135},{"p":22,"v":-0.0064,"x":690,"y":1163},{"p":22,"v":-0.0064,"x":672,"y":1170},
{"p":23,"v":-0.0016,"x":430,"y":225},{"p":23,"v":-0.0016,"x":560,"y":290},{"p":23,"v":-0.0016,"x":625,"y":375},{"p":23,"v":-0.0016,"x":610,"y":440},{"p":23,"v":-0.0016,"x":610,"y":510},{"p":23,"v":-0.0016,"x":640,"y":545},{"p":23,"v":-0.0016,"x":700,"y":548},{"p":23,"v":-0.0016,"x":730,"y":520},{"p":23,"v":-0.0016,"x":730,"y":480},{"p":23,"v":-0.0016,"x":712,"y":410},{"p":23,"v":-0.0016,"x":685,"y":350},{"p":23,"v":-0.0016,"x":685,"y":300},{"p":23,"v":-0.0016,"x":698,"y":170},{"p":23,"v":-0.0016,"x":430,"y":170},
{"p":24,"v":0.0007,"x":455,"y":218},{"p":24,"v":0.0007,"x":520,"y":190},{"p":24,"v":0.0007,"x":650,"y":170},{"p":24,"v":0.0007,"x":660,"y":230},{"p":24,"v":0.0007,"x":640,"y":300},{"p":24,"v":0.0007,"x":600,"y":295},{"p":24,"v":0.0007,"x":520,"y":245},
{"p":25,"v":0.0028,"x":480,"y":205},{"p":25,"v":0.0028,"x":540,"y":175},{"p":25,"v":0.0028,"x":610,"y":175},{"p":25,"v":0.0028,"x":625,"y":215},{"p":25,"v":0.0028,"x":590,"y":255},{"p":25,"v":0.0028,"x":520,"y":235},
{"p":26,"v":0.005,"x":515,"y":200},{"p":26,"v":0.005,"x":555,"y":190},{"p":26,"v":0.005,"x":565,"y":212},{"p":26,"v":0.005,"x":525,"y":215},
{"p":27,"v":0.0007,"x":635,"y":480},{"p":27,"v":0.0007,"x":670,"y":430},{"p":27,"v":0.0007,"x":705,"y":470},{"p":27,"v":0.0007,"x":700,"y":515},{"p":27,"v":0.0007,"x":665,"y":525},{"p":27,"v":0.0007,"x":635,"y":500},
{"p":28,"v":-0.0016,"x":375,"y":250},{"p":28,"v":-0.0016,"x":362,"y":345},{"p":28,"v":-0.0016,"x":362,"y":430},{"p":28,"v":-0.0016,"x":375,"y":525},{"p":28,"v":-0.0016,"x":320,"y":615},{"p":28,"v":-0.0016,"x":325,"y":805},{"p":28,"v":-0.0016,"x":340,"y":955},{"p":28,"v":-0.0016,"x":338,"y":1005},{"p":28,"v":-0.0016,"x":365,"y":1040},{"p":28,"v":-0.0016,"x":400,"y":1043},{"p":28,"v":-0.0016,"x":405,"y":985},{"p":28,"v":-0.0016,"x":430,"y":965},{"p":28,"v":-0.0016,"x":470,"y":970},{"p":28,"v":-0.0016,"x":483,"y":1000},{"p":28,"v":-0.0016,"x":460,"y":1035},{"p":28,"v":-0.0016,"x":410,"y":1050},{"p":28,"v":-0.0016,"x":430,"y":1150},{"p":28,"v":-0.0016,"x":440,"y":1238},{"p":28,"v":-0.0016,"x":10,"y":1238},{"p":28,"v":-0.0016,"x":10,"y":250},
{"p":29,"v":0.0007,"x":345,"y":268},{"p":29,"v":0.0007,"x":345,"y":345},{"p":29,"v":0.0007,"x":350,"y":440},{"p":29,"v":0.0007,"x":348,"y":525},{"p":29,"v":0.0007,"x":295,"y":610},{"p":29,"v":0.0007,"x":295,"y":675},{"p":29,"v":0.0007,"x":310,"y":785},{"p":29,"v":0.0007,"x":300,"y":935},{"p":29,"v":0.0007,"x":300,"y":1045},{"p":29,"v":0.0007,"x":365,"y":1145},{"p":29,"v":0.0007,"x":380,"y":1238},{"p":29,"v":0.0007,"x":10,"y":1238},{"p":29,"v":0.0007,"x":10,"y":268},
{"p":30,"v":0.0028,"x":320,"y":285},{"p":30,"v":0.0028,"x":322,"y":400},{"p":30,"v":0.0028,"x":335,"y":490},{"p":30,"v":0.0028,"x":300,"y":580},{"p":30,"v":0.0028,"x":255,"y":645},{"p":30,"v":0.0028,"x":260,"y":715},{"p":30,"v":0.0028,"x":295,"y":815},{"p":30,"v":0.0028,"x":285,"y":865},{"p":30,"v":0.0028,"x":215,"y":960},{"p":30,"v":0.0028,"x":260,"y":1075},{"p":30,"v":0.0028,"x":265,"y":1238},{"p":30,"v":0.0028,"x":10,"y":1238},{"p":30,"v":0.0028,"x":10,"y":285},
{"p":31,"v":0.005,"x":293,"y":308},{"p":31,"v":0.005,"x":305,"y":470},{"p":31,"v":0.005,"x":280,"y":540},{"p":31,"v":0.005,"x":210,"y":620},{"p":31,"v":0.005,"x":150,"y":610},{"p":31,"v":0.005,"x":105,"y":590},{"p":31,"v":0.005,"x":10,"y":560},{"p":31,"v":0.005,"x":10,"y":308},
{"p":32,"v":0.008,"x":250,"y":345},{"p":32,"v":0.008,"x":270,"y":460},{"p":32,"v":0.008,"x":235,"y":520},{"p":32,"v":0.008,"x":170,"y":540},{"p":32,"v":0.008,"x":130,"y":510},{"p":32,"v":0.008,"x":10,"y":480},{"p":32,"v":0.008,"x":10,"y":345},
{"p":33,"v":0.0007,"x":10,"y":640},{"p":33,"v":0.0007,"x":90,"y":655},{"p":33,"v":0.0007,"x":170,"y":745},{"p":33,"v":0.0007,"x":190,"y":935},{"p":33,"v":0.0007,"x":180,"y":975},{"p":33,"v":0.0007,"x":10,"y":975},
{"p":34,"v":-0.0016,"x":10,"y":720},{"p":34,"v":-0.0016,"x":90,"y":725},{"p":34,"v":-0.0016,"x":150,"y":805},{"p":34,"v":-0.0016,"x":130,"y":885},{"p":34,"v":-0.0016,"x":10,"y":885},
{"p":35,"v":0.005,"x":205,"y":805},{"p":35,"v":0.005,"x":230,"y":753},{"p":35,"v":0.005,"x":270,"y":770},{"p":35,"v":0.005,"x":285,"y":815},{"p":35,"v":0.005,"x":265,"y":865},{"p":35,"v":0.005,"x":230,"y":873},{"p":35,"v":0.005,"x":210,"y":840},
{"p":36,"v":0.008,"x":235,"y":805},{"p":36,"v":0.008,"x":250,"y":798},{"p":36,"v":0.008,"x":260,"y":810},{"p":36,"v":0.008,"x":250,"y":833},{"p":36,"v":0.008,"x":238,"y":825},
{"p":37,"v":-0.0016,"x":1010,"y":270},{"p":37,"v":-0.0016,"x":975,"y":345},{"p":37,"v":-0.0016,"x":975,"y":480},{"p":37,"v":-0.0016,"x":900,"y":570},{"p":37,"v":-0.0016,"x":890,"y":595},{"p":37,"v":-0.0016,"x":910,"y":615},{"p":37,"v":-0.0016,"x":945,"y":660},{"p":37,"v":-0.0016,"x":985,"y":675},{"p":37,"v":-0.0016,"x":1040,"y":640},{"p":37,"v":-0.0016,"x":1085,"y":635},{"p":37,"v":-0.0016,"x":1108,"y":675},{"p":37,"v":-0.0016,"x":1090,"y":715},{"p":37,"v":-0.0016,"x":1050,"y":755},{"p":37,"v":-0.0016,"x":1020,"y":835},{"p":37,"v":-0.0016,"x":960,"y":915},{"p":37,"v":-0.0016,"x":933,"y":965},{"p":37,"v":-0.0016,"x":975,"y":995},{"p":37,"v":-0.0016,"x":1060,"y":950},{"p":37,"v":-0.0016,"x":1205,"y":903},{"p":37,"v":-0.0016,"x":1300,"y":903},{"p":37,"v":-0.0016,"x":1300,"y":270},
{"p":38,"v":0.0007,"x":1040,"y":290},{"p":38,"v":0.0007,"x":1005,"y":380},{"p":38,"v":0.0007,"x":1015,"y":540},{"p":38,"v":0.0007,"x":1115,"y":615},{"p":38,"v":0.0007,"x":1180,"y":685},{"p":38,"v":0.0007,"x":1190,"y":765},{"p":38,"v":0.0007,"x":1245,"y":800},{"p":38,"v":0.0007,"x":1300,"y":800},{"p":38,"v":0.0007,"x":1300,"y":290},
{"p":39,"v":0.0028,"x":1065,"y":325},{"p":39,"v":0.0028,"x":1030,"y":400},{"p":39,"v":0.0028,"x":1030,"y":520},{"p":39,"v":0.0028,"x":1165,"y":615},{"p":39,"v":0.0028,"x":1248,"y":680},{"p":39,"v":0.0028,"x":1300,"y":680},{"p":39,"v":0.0028,"x":1300,"y":325},
{"p":40,"v":0.005,"x":1085,"y":345},{"p":40,"v":0.005,"x":1045,"y":420},{"p":40,"v":0.005,"x":1050,"y":520},{"p":40,"v":0.005,"x":1245,"y":615},{"p":40,"v":0.005,"x":1300,"y":615},{"p":40,"v":0.005,"x":1300,"y":345},
{"p":41,"v":0.008,"x":1115,"y":365},{"p":41,"v":0.008,"x":1070,"y":430},{"p":41,"v":0.008,"x":1075,"y":500},{"p":41,"v":0.008,"x":1230,"y":570},{"p":41,"v":0.008,"x":1300,"y":570},{"p":41,"v":0.008,"x":1300,"y":365},
{"p":42,"v":0.01,"x":1140,"y":392},{"p":42,"v":0.01,"x":1088,"y":460},{"p":42,"v":0.01,"x":1105,"y":490},{"p":42,"v":0.01,"x":1215,"y":525},{"p":42,"v":0.01,"x":1300,"y":525},{"p":42,"v":0.01,"x":1300,"y":392}
],
"mask":[{"type":"Feature","properties":{},"geometry":{"type":"Polygon","coordinates":[[[0,0],[0,1242],[1320,1242],[1320,0],[0,0]],[[1257,705],[1248,797],[1222,886],[1178,969],[1119,1044],[1047,1109],[963,1162],[870,1201],[771,1225],[669,1233],[567,1225],[468,1201],[375,1162],[291,1109],[219,1044],[160,969],[116,886],[90,797],[81,705],[90,613],[116,524],[160,441],[219,366],[291,301],[375,248],[468,209],[567,185],[669,177],[771,185],[870,209],[963,248],[1047,301],[1119,366],[1178,441],[1222,524],[1248,613],[1257,705]]]}}],
"halo":[{"type":"Feature","properties":{},"geometry":{"type":"Polygon","coordinates":[[[1296,705],[1286,605],[1258,509],[1212,419],[1149,337],[1072,266],[982,209],[883,167],[778,141],[669,132],[560,141],[455,167],[356,209],[266,266],[189,337],[126,419],[80,509],[52,605],[42,705],[52,805],[80,901],[126,991],[189,1073],[266,1144],[356,1201],[450,1242],[888,1242],[982,1201],[1072,1144],[1149,1073],[1212,991],[1258,901],[1286,805],[1296,705]],[[1257,705],[1248,797],[1222,886],[1178,969],[1119,1044],[1047,1109],[963,1162],[870,1201],[771,1225],[669,1233],[567,1225],[468,1201],[375,1162],[291,1109],[219,1044],[160,969],[116,886],[90,797],[81,705],[90,613],[116,524],[160,441],[219,366],[291,301],[375,248],[468,209],[567,185],[669,177],[771,185],[870,209],[963,248],[1047,301],[1119,366],[1178,441],[1222,524],[1248,613],[1257,705]]]}},
{"type":"Feature","properties":{},"geometry":{"type":"Polygon","coordinates":[[[95,600],[65,578],[45,585],[33,610],[35,665],[38,745],[28,800],[50,840],[75,850],[100,837],[88,770],[81,705],[88,640],[95,600]]]}},
{"type":"Feature","properties":{},"geometry":{"type":"Polygon","coordinates":[[[1245,600],[1270,578],[1295,585],[1306,610],[1305,665],[1308,745],[1312,800],[1295,840],[1265,850],[1240,830],[1250,770],[1257,705],[1250,640],[1245,600]]]}}],
"outline":[{"type":"Feature","properties":{},"geometry":{"type":"LineString","coordinates":[[1257,705],[1248,797],[1222,886],[1178,969],[1119,1044],[1047,1109],[963,1162],[870,1201],[771,1225],[669,1233],[567,1225],[468,1201],[375,1162],[291,1109],[219,1044],[160,969],[116,886],[90,797],[81,705],[90,613],[116,524],[160,441],[219,366],[291,301],[375,248],[468,209],[567,185],[669,177],[771,185],[870,209],[963,248],[1047,301],[1119,366],[1178,441],[1222,524],[1248,613],[1257,705]]}},
{"type":"Feature","properties":{},"geometry":{"type":"LineString","coordinates":[[560,180],[640,100],[665,93],[695,100],[775,180]]}},
{"type":"Feature","properties":{},"geometry":{"type":"LineString","coordinates":[[95,600],[65,578],[45,585],[33,610],[35,665],[38,745],[28,800],[50,840],[75,850],[100,837]]}},
{"type":"Feature","properties":{},"geometry":{"type":"LineString","coordinates":[[1245,600],[1270,578],[1295,585],[1306,610],[1305,665],[1308,745],[1312,800],[1295,840],[1265,850],[1240,830]]}}],
"dots":[{"x":465,"y":321},{"x":568,"y":321},{"x":670,"y":321},{"x":773,"y":321},{"x":875,"y":317},{"x":978,"y":305},{"x":362,"y":315},{"x":258,"y":470},{"x":361,"y":484},{"x":464,"y":484},{"x":570,"y":486},{"x":670,"y":489},{"x":773,"y":484},{"x":876,"y":481},{"x":978,"y":478},{"x":1080,"y":476},{"x":255,"y":650},{"x":361,"y":648},{"x":466,"y":648},{"x":568,"y":648},{"x":670,"y":648},{"x":773,"y":645},{"x":875,"y":645},{"x":978,"y":643},{"x":1082,"y":640},{"x":153,"y":815},{"x":258,"y":815},{"x":361,"y":815},{"x":461,"y":815},{"x":565,"y":815},{"x":668,"y":815},{"x":773,"y":815},{"x":877,"y":815},{"x":975,"y":815},{"x":1078,"y":815},{"x":1185,"y":815},{"x":363,"y":1003},{"x":466,"y":988},{"x":564,"y":983},{"x":668,"y":978},{"x":773,"y":981},{"x":877,"y":982},{"x":980,"y":995},{"x":255,"y":1043},{"x":1082,"y":1045},{"x":463,"y":1173},{"x":670,"y":1157},{"x":772,"y":1152},{"x":877,"y":1171}]
},
"vconcat":[
{"hconcat":[
{"width":311,"height":239,"layer":[
{"data":{"name":"hax"},"mark":{"type":"rule","color":"#333","strokeWidth":1.3},"encoding":{"x":{"field":"a","type":"quantitative","scale":{"domain":[-970.2,630.4]},"axis":{"orient":"bottom","offset":-56,"values":[-800,-600,-400,-200,200,400,600],"labels":false,"domain":false,"grid":false,"title":null,"tickSize":-3,"tickColor":"#333"}},"x2":{"field":"b"},"y":{"field":"z","type":"quantitative","scale":{"domain":[3.294,-10.765]},"axis":{"orient":"right","offset":-122.5,"values":[-6,-3,3],"labels":false,"domain":false,"grid":false,"title":null,"tickSize":2,"tickColor":"#333"}}}},
{"data":{"name":"vax"},"mark":{"type":"rule","color":"#222","strokeWidth":1},"encoding":{"x":{"field":"t","type":"quantitative","scale":{"domain":[-970.2,630.4]}},"y":{"field":"a","type":"quantitative","scale":{"domain":[3.294,-10.765]}},"y2":{"field":"b"}}},
{"data":{"name":"F3"},"mark":{"type":"line","color":"#ff0000","strokeWidth":3.2,"strokeDash":[10,7],"clip":true},"encoding":{"x":{"field":"t","type":"quantitative","scale":{"domain":[-970.2,630.4]}},"y":{"field":"inc","type":"quantitative","scale":{"domain":[3.294,-10.765]}}}},
{"data":{"name":"F3"},"mark":{"type":"line","color":"#00ee00","strokeWidth":3.2,"clip":true},"encoding":{"x":{"field":"t","type":"quantitative","scale":{"domain":[-970.2,630.4]}},"y":{"field":"con","type":"quantitative","scale":{"domain":[3.294,-10.765]}}}},
{"data":{"values":[{"label":"F3","t":2.6,"v":-8.29}]},"mark":{"type":"text","fontSize":21.5,"dy":1.5,"color":"#111"},"encoding":{"text":{"field":"label"},"x":{"field":"t","type":"quantitative","scale":{"domain":[-970.2,630.4]}},"y":{"field":"v","type":"quantitative","scale":{"domain":[3.294,-10.765]}}}},
{"data":{"values":[{"label":"A","t":-821,"v":-9.59}]},"mark":{"type":"text","fontSize":26.5,"fontWeight":"bold","color":"#000"},"encoding":{"text":{"field":"label"},"x":{"field":"t","type":"quantitative","scale":{"domain":[-970.2,630.4]}},"y":{"field":"v","type":"quantitative","scale":{"domain":[3.294,-10.765]}}}}
]},
{"width":285,"height":239,"layer":[
{"data":{"name":"hax"},"mark":{"type":"rule","color":"#333","strokeWidth":1.3},"encoding":{"x":{"field":"a","type":"quantitative","scale":{"domain":[-828.6,638.2]},"axis":{"orient":"bottom","offset":-56,"values":[-800,-600,-400,-200,200,400,600],"labels":false,"domain":false,"grid":false,"title":null,"tickSize":-3,"tickColor":"#333"}},"x2":{"field":"b"},"y":{"field":"z","type":"quantitative","scale":{"domain":[3.294,-10.765]},"axis":{"orient":"right","offset":-124,"values":[-6,-3,3],"labels":false,"domain":false,"grid":false,"title":null,"tickSize":2,"tickColor":"#333"}}}},
{"data":{"name":"vax"},"mark":{"type":"rule","color":"#222","strokeWidth":1},"encoding":{"x":{"field":"t","type":"quantitative","scale":{"domain":[-828.6,638.2]}},"y":{"field":"a","type":"quantitative","scale":{"domain":[3.294,-10.765]}},"y2":{"field":"b"}}},
{"data":{"name":"FZ"},"mark":{"type":"line","color":"#ff0000","strokeWidth":3.2,"strokeDash":[10,7],"clip":true},"encoding":{"x":{"field":"t","type":"quantitative","scale":{"domain":[-828.6,638.2]}},"y":{"field":"inc","type":"quantitative","scale":{"domain":[3.294,-10.765]}}}},
{"data":{"name":"FZ"},"mark":{"type":"line","color":"#00ee00","strokeWidth":3.2,"clip":true},"encoding":{"x":{"field":"t","type":"quantitative","scale":{"domain":[-828.6,638.2]}},"y":{"field":"con","type":"quantitative","scale":{"domain":[3.294,-10.765]}}}},
{"data":{"values":[{"label":"FZ","t":0,"v":-8.24}]},"mark":{"type":"text","fontSize":21.5,"dy":1.5,"color":"#111"},"encoding":{"text":{"field":"label"},"x":{"field":"t","type":"quantitative","scale":{"domain":[-828.6,638.2]}},"y":{"field":"v","type":"quantitative","scale":{"domain":[3.294,-10.765]}}}}
]},
{"width":274,"height":239,"layer":[
{"data":{"name":"hax"},"mark":{"type":"rule","color":"#333","strokeWidth":1.3,"clip":true},"encoding":{"x":{"field":"a","type":"quantitative","scale":{"domain":[-831.2,579]},"axis":{"orient":"bottom","offset":-56,"values":[-800,-600,-400,-200,200,400],"labels":false,"domain":false,"grid":false,"title":null,"tickSize":-3,"tickColor":"#333"}},"x2":{"field":"b"},"y":{"field":"z","type":"quantitative","scale":{"domain":[3.294,-10.765]},"axis":{"orient":"right","offset":-112.5,"values":[-6,-3,3],"labels":false,"domain":false,"grid":false,"title":null,"tickSize":2,"tickColor":"#333"}}}},
{"data":{"name":"vax"},"mark":{"type":"rule","color":"#222","strokeWidth":1},"encoding":{"x":{"field":"t","type":"quantitative","scale":{"domain":[-831.2,579]}},"y":{"field":"a","type":"quantitative","scale":{"domain":[3.294,-10.765]}},"y2":{"field":"b"}}},
{"data":{"name":"F4"},"mark":{"type":"line","color":"#ff0000","strokeWidth":3.2,"strokeDash":[10,7],"clip":true},"encoding":{"x":{"field":"t","type":"quantitative","scale":{"domain":[-831.2,579]}},"y":{"field":"inc","type":"quantitative","scale":{"domain":[3.294,-10.765]}}}},
{"data":{"name":"F4"},"mark":{"type":"line","color":"#00ee00","strokeWidth":3.2,"clip":true},"encoding":{"x":{"field":"t","type":"quantitative","scale":{"domain":[-831.2,579]}},"y":{"field":"con","type":"quantitative","scale":{"domain":[3.294,-10.765]}}}},
{"data":{"values":[{"label":"F4","t":-3,"v":-7.88}]},"mark":{"type":"text","fontSize":21.5,"dy":1.5,"color":"#111"},"encoding":{"text":{"field":"label"},"x":{"field":"t","type":"quantitative","scale":{"domain":[-831.2,579]}},"y":{"field":"v","type":"quantitative","scale":{"domain":[3.294,-10.765]}}}}
]}
]},
{"hconcat":[
{"width":311,"height":205,"layer":[
{"data":{"name":"hax"},"mark":{"type":"rule","color":"#333","strokeWidth":1.3},"encoding":{"x":{"field":"a","type":"quantitative","scale":{"domain":[-970.2,630.4]},"axis":{"orient":"bottom","offset":-52,"values":[-800,-600,-400,-200,200,400,600],"labels":false,"domain":false,"grid":false,"title":null,"tickSize":-3,"tickColor":"#333"}},"x2":{"field":"b"},"y":{"field":"z","type":"quantitative","scale":{"domain":[3.059,-9]},"axis":{"orient":"right","offset":-122.5,"values":[-6,-3,3],"labels":false,"domain":false,"grid":false,"title":null,"tickSize":2,"tickColor":"#333"}}}},
{"data":{"name":"vax"},"mark":{"type":"rule","color":"#222","strokeWidth":1},"encoding":{"x":{"field":"t","type":"quantitative","scale":{"domain":[-970.2,630.4]}},"y":{"field":"a","type":"quantitative","scale":{"domain":[3.059,-9]}},"y2":{"field":"b"}}},
{"data":{"name":"FC3"},"mark":{"type":"line","color":"#ff0000","strokeWidth":3.2,"strokeDash":[10,7],"clip":true},"encoding":{"x":{"field":"t","type":"quantitative","scale":{"domain":[-970.2,630.4]}},"y":{"field":"inc","type":"quantitative","scale":{"domain":[3.059,-9]}}}},
{"data":{"name":"FC3"},"mark":{"type":"line","color":"#00ee00","strokeWidth":3.2,"clip":true},"encoding":{"x":{"field":"t","type":"quantitative","scale":{"domain":[-970.2,630.4]}},"y":{"field":"con","type":"quantitative","scale":{"domain":[3.059,-9]}}}},
{"data":{"values":[{"label":"FC3","t":-3,"v":-8}]},"mark":{"type":"text","fontSize":21.5,"dy":1.5,"color":"#111"},"encoding":{"text":{"field":"label"},"x":{"field":"t","type":"quantitative","scale":{"domain":[-970.2,630.4]}},"y":{"field":"v","type":"quantitative","scale":{"domain":[3.059,-9]}}}}
]},
{"width":285,"height":205,"layer":[
{"data":{"name":"hax"},"mark":{"type":"rule","color":"#333","strokeWidth":1.3},"encoding":{"x":{"field":"a","type":"quantitative","scale":{"domain":[-828.6,638.2]},"axis":{"orient":"bottom","offset":-52,"values":[-800,-600,-400,-200,200,400,600],"labels":false,"domain":false,"grid":false,"title":null,"tickSize":-3,"tickColor":"#333"}},"x2":{"field":"b"},"y":{"field":"z","type":"quantitative","scale":{"domain":[3.059,-9]},"axis":{"orient":"right","offset":-124,"values":[-6,-3,3],"labels":false,"domain":false,"grid":false,"title":null,"tickSize":2,"tickColor":"#333"}}}},
{"data":{"name":"vax"},"mark":{"type":"rule","color":"#222","strokeWidth":1},"encoding":{"x":{"field":"t","type":"quantitative","scale":{"domain":[-828.6,638.2]}},"y":{"field":"a","type":"quantitative","scale":{"domain":[3.059,-9]}},"y2":{"field":"b"}}},
{"data":{"name":"FCZ"},"mark":{"type":"line","color":"#ff0000","strokeWidth":3.2,"strokeDash":[10,7],"clip":true},"encoding":{"x":{"field":"t","type":"quantitative","scale":{"domain":[-828.6,638.2]}},"y":{"field":"inc","type":"quantitative","scale":{"domain":[3.059,-9]}}}},
{"data":{"name":"FCZ"},"mark":{"type":"line","color":"#00ee00","strokeWidth":3.2,"clip":true},"encoding":{"x":{"field":"t","type":"quantitative","scale":{"domain":[-828.6,638.2]}},"y":{"field":"con","type":"quantitative","scale":{"domain":[3.059,-9]}}}},
{"data":{"values":[{"label":"FCZ","t":0,"v":-8.12}]},"mark":{"type":"text","fontSize":21.5,"dy":1.5,"color":"#111"},"encoding":{"text":{"field":"label"},"x":{"field":"t","type":"quantitative","scale":{"domain":[-828.6,638.2]}},"y":{"field":"v","type":"quantitative","scale":{"domain":[3.059,-9]}}}}
]},
{"width":274,"height":205,"layer":[
{"data":{"name":"hax"},"mark":{"type":"rule","color":"#333","strokeWidth":1.3,"clip":true},"encoding":{"x":{"field":"a","type":"quantitative","scale":{"domain":[-831.2,579]},"axis":{"orient":"bottom","offset":-52,"values":[-800,-600,-400,-200,200,400],"labels":false,"domain":false,"grid":false,"title":null,"tickSize":-3,"tickColor":"#333"}},"x2":{"field":"b"},"y":{"field":"z","type":"quantitative","scale":{"domain":[3.059,-9]},"axis":{"orient":"right","offset":-112.5,"values":[-6,-3,3],"labels":false,"domain":false,"grid":false,"title":null,"tickSize":2,"tickColor":"#333"}}}},
{"data":{"name":"vax"},"mark":{"type":"rule","color":"#222","strokeWidth":1},"encoding":{"x":{"field":"t","type":"quantitative","scale":{"domain":[-831.2,579]}},"y":{"field":"a","type":"quantitative","scale":{"domain":[3.059,-9]}},"y2":{"field":"b"}}},
{"data":{"name":"FC4"},"mark":{"type":"line","color":"#ff0000","strokeWidth":3.2,"strokeDash":[10,7],"clip":true},"encoding":{"x":{"field":"t","type":"quantitative","scale":{"domain":[-831.2,579]}},"y":{"field":"inc","type":"quantitative","scale":{"domain":[3.059,-9]}}}},
{"data":{"name":"FC4"},"mark":{"type":"line","color":"#00ee00","strokeWidth":3.2,"clip":true},"encoding":{"x":{"field":"t","type":"quantitative","scale":{"domain":[-831.2,579]}},"y":{"field":"con","type":"quantitative","scale":{"domain":[3.059,-9]}}}},
{"data":{"values":[{"label":"FC4","t":13,"v":-8.06}]},"mark":{"type":"text","fontSize":21.5,"dy":1.5,"color":"#111"},"encoding":{"text":{"field":"label"},"x":{"field":"t","type":"quantitative","scale":{"domain":[-831.2,579]}},"y":{"field":"v","type":"quantitative","scale":{"domain":[3.059,-9]}}}}
]}
]},
{"hconcat":[
{"width":311,"height":209,"layer":[
{"data":{"name":"hax"},"mark":{"type":"rule","color":"#333","strokeWidth":1.3},"encoding":{"x":{"field":"a","type":"quantitative","scale":{"domain":[-970.2,630.4]},"axis":{"orient":"bottom","offset":-56,"values":[-800,-600,-400,-200,200,400,600],"labels":false,"domain":false,"grid":false,"title":null,"tickSize":-3,"tickColor":"#333"}},"x2":{"field":"b"},"y":{"field":"z","type":"quantitative","scale":{"domain":[3.294,-9]},"axis":{"orient":"right","offset":-122.5,"values":[-6,-3,3],"labels":false,"domain":false,"grid":false,"title":null,"tickSize":2,"tickColor":"#333"}}}},
{"data":{"name":"vax"},"mark":{"type":"rule","color":"#222","strokeWidth":1},"encoding":{"x":{"field":"t","type":"quantitative","scale":{"domain":[-970.2,630.4]}},"y":{"field":"a","type":"quantitative","scale":{"domain":[3.294,-9]}},"y2":{"field":"b"}}},
{"data":{"name":"C3"},"mark":{"type":"line","color":"#ff0000","strokeWidth":3.2,"strokeDash":[10,7],"clip":true},"encoding":{"x":{"field":"t","type":"quantitative","scale":{"domain":[-970.2,630.4]}},"y":{"field":"inc","type":"quantitative","scale":{"domain":[3.294,-9]}}}},
{"data":{"name":"C3"},"mark":{"type":"line","color":"#00ee00","strokeWidth":3.2,"clip":true},"encoding":{"x":{"field":"t","type":"quantitative","scale":{"domain":[-970.2,630.4]}},"y":{"field":"con","type":"quantitative","scale":{"domain":[3.294,-9]}}}},
{"data":{"values":[{"label":"C3","t":-13,"v":-8}]},"mark":{"type":"text","fontSize":21.5,"dy":1.5,"color":"#111"},"encoding":{"text":{"field":"label"},"x":{"field":"t","type":"quantitative","scale":{"domain":[-970.2,630.4]}},"y":{"field":"v","type":"quantitative","scale":{"domain":[3.294,-9]}}}}
]},
{"width":285,"height":209,"layer":[
{"data":{"name":"hax"},"mark":{"type":"rule","color":"#333","strokeWidth":1.3},"encoding":{"x":{"field":"a","type":"quantitative","scale":{"domain":[-828.6,638.2]},"axis":{"orient":"bottom","offset":-56,"values":[-800,-600,-400,-200,200,400,600],"labels":false,"domain":false,"grid":false,"title":null,"tickSize":-3,"tickColor":"#333"}},"x2":{"field":"b"},"y":{"field":"z","type":"quantitative","scale":{"domain":[3.294,-9]},"axis":{"orient":"right","offset":-124,"values":[-6,-3,3],"labels":false,"domain":false,"grid":false,"title":null,"tickSize":2,"tickColor":"#333"}}}},
{"data":{"name":"vax"},"mark":{"type":"rule","color":"#222","strokeWidth":1},"encoding":{"x":{"field":"t","type":"quantitative","scale":{"domain":[-828.6,638.2]}},"y":{"field":"a","type":"quantitative","scale":{"domain":[3.294,-9]}},"y2":{"field":"b"}}},
{"data":{"name":"CZ"},"mark":{"type":"line","color":"#ff0000","strokeWidth":3.2,"strokeDash":[10,7],"clip":true},"encoding":{"x":{"field":"t","type":"quantitative","scale":{"domain":[-828.6,638.2]}},"y":{"field":"inc","type":"quantitative","scale":{"domain":[3.294,-9]}}}},
{"data":{"name":"CZ"},"mark":{"type":"line","color":"#00ee00","strokeWidth":3.2,"clip":true},"encoding":{"x":{"field":"t","type":"quantitative","scale":{"domain":[-828.6,638.2]}},"y":{"field":"con","type":"quantitative","scale":{"domain":[3.294,-9]}}}},
{"data":{"values":[{"label":"CZ","t":-15,"v":-8.06}]},"mark":{"type":"text","fontSize":21.5,"dy":1.5,"color":"#111"},"encoding":{"text":{"field":"label"},"x":{"field":"t","type":"quantitative","scale":{"domain":[-828.6,638.2]}},"y":{"field":"v","type":"quantitative","scale":{"domain":[3.294,-9]}}}}
]},
{"width":274,"height":209,"layer":[
{"data":{"name":"hax"},"mark":{"type":"rule","color":"#333","strokeWidth":1.3,"clip":true},"encoding":{"x":{"field":"a","type":"quantitative","scale":{"domain":[-831.2,579]},"axis":{"orient":"bottom","offset":-56,"values":[-800,-600,-400,-200,200,400],"labels":false,"domain":false,"grid":false,"title":null,"tickSize":-3,"tickColor":"#333"}},"x2":{"field":"b"},"y":{"field":"z","type":"quantitative","scale":{"domain":[3.294,-9]},"axis":{"orient":"right","offset":-112.5,"values":[-6,-3,3],"labels":false,"domain":false,"grid":false,"title":null,"tickSize":2,"tickColor":"#333"}}}},
{"data":{"name":"vax"},"mark":{"type":"rule","color":"#222","strokeWidth":1},"encoding":{"x":{"field":"t","type":"quantitative","scale":{"domain":[-831.2,579]}},"y":{"field":"a","type":"quantitative","scale":{"domain":[3.294,-9]}},"y2":{"field":"b"}}},
{"data":{"name":"C4"},"mark":{"type":"line","color":"#ff0000","strokeWidth":3.2,"strokeDash":[10,7],"clip":true},"encoding":{"x":{"field":"t","type":"quantitative","scale":{"domain":[-831.2,579]}},"y":{"field":"inc","type":"quantitative","scale":{"domain":[3.294,-9]}}}},
{"data":{"name":"C4"},"mark":{"type":"line","color":"#00ee00","strokeWidth":3.2,"clip":true},"encoding":{"x":{"field":"t","type":"quantitative","scale":{"domain":[-831.2,579]}},"y":{"field":"con","type":"quantitative","scale":{"domain":[3.294,-9]}}}},
{"data":{"values":[{"label":"C4","t":0,"v":-7.94}]},"mark":{"type":"text","fontSize":21.5,"dy":1.5,"color":"#111"},"encoding":{"text":{"field":"label"},"x":{"field":"t","type":"quantitative","scale":{"domain":[-831.2,579]}},"y":{"field":"v","type":"quantitative","scale":{"domain":[3.294,-9]}}}}
]}
]},
{"hconcat":[
{"width":311,"height":207,"layer":[
{"data":{"name":"hax"},"mark":{"type":"rule","color":"#333","strokeWidth":1.3},"encoding":{"x":{"field":"a","type":"quantitative","scale":{"domain":[-970.2,630.4]},"axis":{"orient":"bottom","offset":-54,"values":[-800,-600,-400,-200,200,400,600],"labels":false,"domain":false,"grid":false,"title":null,"tickSize":-3,"tickColor":"#333"}},"x2":{"field":"b"},"y":{"field":"z","type":"quantitative","scale":{"domain":[3.176,-9]},"axis":{"orient":"right","offset":-122.5,"values":[-6,-3,3],"labels":false,"domain":false,"grid":false,"title":null,"tickSize":2,"tickColor":"#333"}}}},
{"data":{"name":"vax"},"mark":{"type":"rule","color":"#222","strokeWidth":1},"encoding":{"x":{"field":"t","type":"quantitative","scale":{"domain":[-970.2,630.4]}},"y":{"field":"a","type":"quantitative","scale":{"domain":[3.176,-9]}},"y2":{"field":"b"}}},
{"data":{"name":"CP3"},"mark":{"type":"line","color":"#ff0000","strokeWidth":3.2,"strokeDash":[10,7],"clip":true},"encoding":{"x":{"field":"t","type":"quantitative","scale":{"domain":[-970.2,630.4]}},"y":{"field":"inc","type":"quantitative","scale":{"domain":[3.176,-9]}}}},
{"data":{"name":"CP3"},"mark":{"type":"line","color":"#00ee00","strokeWidth":3.2,"clip":true},"encoding":{"x":{"field":"t","type":"quantitative","scale":{"domain":[-970.2,630.4]}},"y":{"field":"con","type":"quantitative","scale":{"domain":[3.176,-9]}}}},
{"data":{"values":[{"label":"CP3","t":-13,"v":-8.06}]},"mark":{"type":"text","fontSize":21.5,"dy":1.5,"color":"#111"},"encoding":{"text":{"field":"label"},"x":{"field":"t","type":"quantitative","scale":{"domain":[-970.2,630.4]}},"y":{"field":"v","type":"quantitative","scale":{"domain":[3.176,-9]}}}}
]},
{"width":285,"height":207,"layer":[
{"data":{"name":"hax"},"mark":{"type":"rule","color":"#333","strokeWidth":1.3},"encoding":{"x":{"field":"a","type":"quantitative","scale":{"domain":[-828.6,638.2]},"axis":{"orient":"bottom","offset":-54,"values":[-800,-600,-400,-200,200,400,600],"labels":false,"domain":false,"grid":false,"title":null,"tickSize":-3,"tickColor":"#333"}},"x2":{"field":"b"},"y":{"field":"z","type":"quantitative","scale":{"domain":[3.176,-9]},"axis":{"orient":"right","offset":-124,"values":[-6,-3,3],"labels":false,"domain":false,"grid":false,"title":null,"tickSize":2,"tickColor":"#333"}}}},
{"data":{"name":"vax"},"mark":{"type":"rule","color":"#222","strokeWidth":1},"encoding":{"x":{"field":"t","type":"quantitative","scale":{"domain":[-828.6,638.2]}},"y":{"field":"a","type":"quantitative","scale":{"domain":[3.176,-9]}},"y2":{"field":"b"}}},
{"data":{"name":"CPZ"},"mark":{"type":"line","color":"#ff0000","strokeWidth":3.2,"strokeDash":[10,7],"clip":true},"encoding":{"x":{"field":"t","type":"quantitative","scale":{"domain":[-828.6,638.2]}},"y":{"field":"inc","type":"quantitative","scale":{"domain":[3.176,-9]}}}},
{"data":{"name":"CPZ"},"mark":{"type":"line","color":"#00ee00","strokeWidth":3.2,"clip":true},"encoding":{"x":{"field":"t","type":"quantitative","scale":{"domain":[-828.6,638.2]}},"y":{"field":"con","type":"quantitative","scale":{"domain":[3.176,-9]}}}},
{"data":{"values":[{"label":"CPZ","t":0,"v":-8.12}]},"mark":{"type":"text","fontSize":21.5,"dy":1.5,"color":"#111"},"encoding":{"text":{"field":"label"},"x":{"field":"t","type":"quantitative","scale":{"domain":[-828.6,638.2]}},"y":{"field":"v","type":"quantitative","scale":{"domain":[3.176,-9]}}}}
]},
{"width":274,"height":207,"layer":[
{"data":{"name":"hax"},"mark":{"type":"rule","color":"#333","strokeWidth":1.3,"clip":true},"encoding":{"x":{"field":"a","type":"quantitative","scale":{"domain":[-831.2,579]},"axis":{"orient":"bottom","offset":-54,"values":[-800,-600,-400,-200,200,400],"labels":false,"domain":false,"grid":false,"title":null,"tickSize":-3,"tickColor":"#333"}},"x2":{"field":"b"},"y":{"field":"z","type":"quantitative","scale":{"domain":[3.176,-9]},"axis":{"orient":"right","offset":-112.5,"values":[-6,-3,3],"labels":false,"domain":false,"grid":false,"title":null,"tickSize":2,"tickColor":"#333"}}}},
{"data":{"name":"vax"},"mark":{"type":"rule","color":"#222","strokeWidth":1},"encoding":{"x":{"field":"t","type":"quantitative","scale":{"domain":[-831.2,579]}},"y":{"field":"a","type":"quantitative","scale":{"domain":[3.176,-9]}},"y2":{"field":"b"}}},
{"data":{"name":"CP4"},"mark":{"type":"line","color":"#ff0000","strokeWidth":3.2,"strokeDash":[10,7],"clip":true},"encoding":{"x":{"field":"t","type":"quantitative","scale":{"domain":[-831.2,579]}},"y":{"field":"inc","type":"quantitative","scale":{"domain":[3.176,-9]}}}},
{"data":{"name":"CP4"},"mark":{"type":"line","color":"#00ee00","strokeWidth":3.2,"clip":true},"encoding":{"x":{"field":"t","type":"quantitative","scale":{"domain":[-831.2,579]}},"y":{"field":"con","type":"quantitative","scale":{"domain":[3.176,-9]}}}},
{"data":{"values":[{"label":"CP4","t":0,"v":-7.94}]},"mark":{"type":"text","fontSize":21.5,"dy":1.5,"color":"#111"},"encoding":{"text":{"field":"label"},"x":{"field":"t","type":"quantitative","scale":{"domain":[-831.2,579]}},"y":{"field":"v","type":"quantitative","scale":{"domain":[3.176,-9]}}}}
]}
]},
{"width":870,"height":205,"layer":[
{"data":{"name":"hax"},"mark":{"type":"rule","color":"#555","strokeWidth":1.6},"encoding":{"x":{"field":"a","type":"quantitative","scale":{"domain":[-970.2,3507.5]},"axis":{"orient":"bottom","offset":-72,"values":[-800,-600,-400,-200,0,200,400,600],"labels":false,"domain":false,"grid":false,"title":null,"tickSize":-3,"tickColor":"#333"}},"x2":{"field":"b"},"y":{"field":"z","type":"quantitative","scale":{"domain":[4.235,-7.824]},"axis":{"orient":"right","offset":-681.5,"values":[-6,-3,3],"labelExpr":"'' + datum.value","labelFontSize":18,"labelColor":"#222","labelPadding":5,"labelOverlap":false,"labelFlush":false,"domain":false,"grid":false,"title":null,"tickSize":2,"tickColor":"#333"}}}},
{"data":{"values":[{"t":0,"a":-7.06,"b":2.95}]},"mark":{"type":"rule","color":"#222","strokeWidth":1},"encoding":{"x":{"field":"t","type":"quantitative","scale":{"domain":[-970.2,3507.5]}},"y":{"field":"a","type":"quantitative","scale":{"domain":[4.235,-7.824]}},"y2":{"field":"b"}}},
{"data":{"values":[{"label":"-800","t":-826,"v":0.82},{"label":"-600","t":-615,"v":0.82},{"label":"-400","t":-399,"v":0.82},{"label":"-200","t":-198,"v":0.82},{"label":"0","t":-33,"v":0.82},{"label":"200","t":162,"v":0.82},{"label":"400","t":383,"v":0.82},{"label":"600","t":610,"v":0.82}]},"mark":{"type":"text","fontSize":18.5,"color":"#222"},"encoding":{"text":{"field":"label"},"x":{"field":"t","type":"quantitative","scale":{"domain":[-970.2,3507.5]}},"y":{"field":"v","type":"quantitative","scale":{"domain":[4.235,-7.824]}}}},
{"data":{"values":[{"label":"msec","t":700,"v":2.235}]},"mark":{"type":"text","fontSize":22,"color":"#222"},"encoding":{"text":{"field":"label"},"x":{"field":"t","type":"quantitative","scale":{"domain":[-970.2,3507.5]}},"y":{"field":"v","type":"quantitative","scale":{"domain":[4.235,-7.824]}}}},
{"data":{"values":[{"label":"µV","t":-110,"v":-6.35}]},"mark":{"type":"text","fontSize":21,"angle":270,"color":"#222"},"encoding":{"text":{"field":"label"},"x":{"field":"t","type":"quantitative","scale":{"domain":[-970.2,3507.5]}},"y":{"field":"v","type":"quantitative","scale":{"domain":[4.235,-7.824]}}}},
{"data":{"values":[{"a":1577,"b":2843,"y1":-3.9,"y2":1.47}]},"mark":{"type":"rect","fill":"#ffffff","stroke":"#888","strokeWidth":1},"encoding":{"x":{"field":"a","type":"quantitative","scale":{"domain":[-970.2,3507.5]}},"x2":{"field":"b"},"y":{"field":"y1","type":"quantitative","scale":{"domain":[4.235,-7.824]}},"y2":{"field":"y2"}}},
{"data":{"values":[{"cond":"Congruent","a":1650,"b":2015,"v":-2.41}]},"mark":{"type":"rule","color":"#00ee00","strokeWidth":3},"encoding":{"x":{"field":"a","type":"quantitative","scale":{"domain":[-970.2,3507.5]}},"x2":{"field":"b"},"y":{"field":"v","type":"quantitative","scale":{"domain":[4.235,-7.824]}}}},
{"data":{"values":[{"cond":"Incongruent","a":1650,"b":2015,"v":-0.135}]},"mark":{"type":"rule","color":"#ff0000","strokeWidth":3,"strokeDash":[14.5,13.5]},"encoding":{"x":{"field":"a","type":"quantitative","scale":{"domain":[-970.2,3507.5]}},"x2":{"field":"b"},"y":{"field":"v","type":"quantitative","scale":{"domain":[4.235,-7.824]}}}},
{"data":{"values":[{"cond":"Congruent","a":2056,"v":-2.41},{"cond":"Incongruent","a":2056,"v":-0.135}]},"mark":{"type":"text","fontSize":22.5,"color":"#222","align":"left"},"encoding":{"text":{"field":"cond"},"x":{"field":"a","type":"quantitative","scale":{"domain":[-970.2,3507.5]}},"y":{"field":"v","type":"quantitative","scale":{"domain":[4.235,-7.824]}}}}
]},
{"bounds":"flush","hconcat":[
{"width":440,"height":414,"projection":{"type":"identity"},"layer":[
{"data":{"name":"base"},"mark":{"type":"geoshape","fill":"#0fffef","stroke":null},"encoding":{}},
{"data":{"name":"contours"},"mark":{"type":"line","interpolate":"cardinal-closed","tension":0.3,"stroke":"#000","strokeWidth":1,"clip":true},"encoding":{"longitude":{"field":"x","type":"quantitative"},"latitude":{"field":"y","type":"quantitative"},"detail":{"field":"p"},"fill":{"field":"v","type":"quantitative","scale":{"domain":[-0.02,-0.015,-0.01,-0.005,0,0.005,0.01,0.015,0.02],"range":["#00007f","#0000ff","#007fff","#00ffff","#7fff7f","#ffff00","#ff7f00","#ff0000","#7f0000"]},"legend":null}}},
{"data":{"name":"mask"},"mark":{"type":"geoshape","fill":"#ffffff","stroke":null},"encoding":{}},
{"data":{"name":"halo"},"mark":{"type":"geoshape","fill":"#ebf3fd","stroke":null},"encoding":{}},
{"data":{"name":"outline"},"mark":{"type":"geoshape","filled":false,"stroke":"#000","strokeWidth":3.6,"strokeJoin":"round"},"encoding":{}},
{"data":{"name":"dots"},"mark":{"type":"circle","size":7,"color":"#000","opacity":1},"encoding":{"longitude":{"field":"x","type":"quantitative"},"latitude":{"field":"y","type":"quantitative"}}},
{"data":{"values":[{"label":"B","x":100,"y":58}]},"mark":{"type":"text","fontSize":25,"fontWeight":"bold","color":"#000"},"encoding":{"longitude":{"field":"x","type":"quantitative"},"latitude":{"field":"y","type":"quantitative"},"text":{"field":"label"}}}
]},
{"width":430,"height":414,"layer":[
{"data":{"name":"bar"},"mark":{"type":"rect","strokeWidth":0.6},"encoding":{"x":{"datum":5,"type":"quantitative","scale":{"domain":[0,430]},"axis":null},"x2":{"datum":33},"y":{"field":"lo","type":"quantitative","scale":{"domain":[-0.02335,0.02451]},"axis":null},"y2":{"field":"hi"},"color":{"field":"lo","type":"quantitative","scale":{"domain":[-0.02,-0.015,-0.01,-0.005,0,0.005,0.01,0.015,0.02],"range":["#00007f","#0000ff","#007fff","#00ffff","#7fff7f","#ffff00","#ff7f00","#ff0000","#7f0000"]},"legend":null},"stroke":{"field":"lo","type":"quantitative","scale":{"domain":[-0.02,-0.015,-0.01,-0.005,0,0.005,0.01,0.015,0.02],"range":["#00007f","#0000ff","#007fff","#00ffff","#7fff7f","#ffff00","#ff7f00","#ff0000","#7f0000"]},"legend":null}}},
{"data":{"values":[{"label":"0.02 µV","p":27,"v":0.0215},{"label":"-0.02 µV","p":21,"v":-0.0222}]},"mark":{"type":"text","fontSize":18.5,"color":"#333"},"encoding":{"text":{"field":"label"},"x":{"field":"p","type":"quantitative","scale":{"domain":[0,430]},"axis":null},"y":{"field":"v","type":"quantitative","scale":{"domain":[-0.02335,0.02451]},"axis":null}}},
{"data":{"values":[{"label":"MP","p":239,"v":0.00613},{"label":"−100−0 ms","p":236,"v":-0.00243}]},"mark":{"type":"text","fontSize":28,"color":"#222"},"encoding":{"text":{"field":"label"},"x":{"field":"p","type":"quantitative","scale":{"domain":[0,430]},"axis":null},"y":{"field":"v","type":"quantitative","scale":{"domain":[-0.02335,0.02451]},"axis":null}}},
{"data":{"values":[{"label":"Congruent","p":56,"v":0.00197},{"label":"Incongruent","p":285,"v":0.00197}]},"mark":{"type":"text","fontSize":28,"color":"#222","align":"left"},"encoding":{"text":{"field":"label"},"x":{"field":"p","type":"quantitative","scale":{"domain":[0,430]},"axis":null},"y":{"field":"v","type":"quantitative","scale":{"domain":[-0.02335,0.02451]},"axis":null}}},
{"data":{"values":[{"label":"minus","p":199,"v":0.00197}]},"mark":{"type":"text","fontSize":28,"fontStyle":"italic","color":"#222","align":"left"},"encoding":{"text":{"field":"label"},"x":{"field":"p","type":"quantitative","scale":{"domain":[0,430]},"axis":null},"y":{"field":"v","type":"quantitative","scale":{"domain":[-0.02335,0.02451]},"axis":null}}}
]}
]}
]}
